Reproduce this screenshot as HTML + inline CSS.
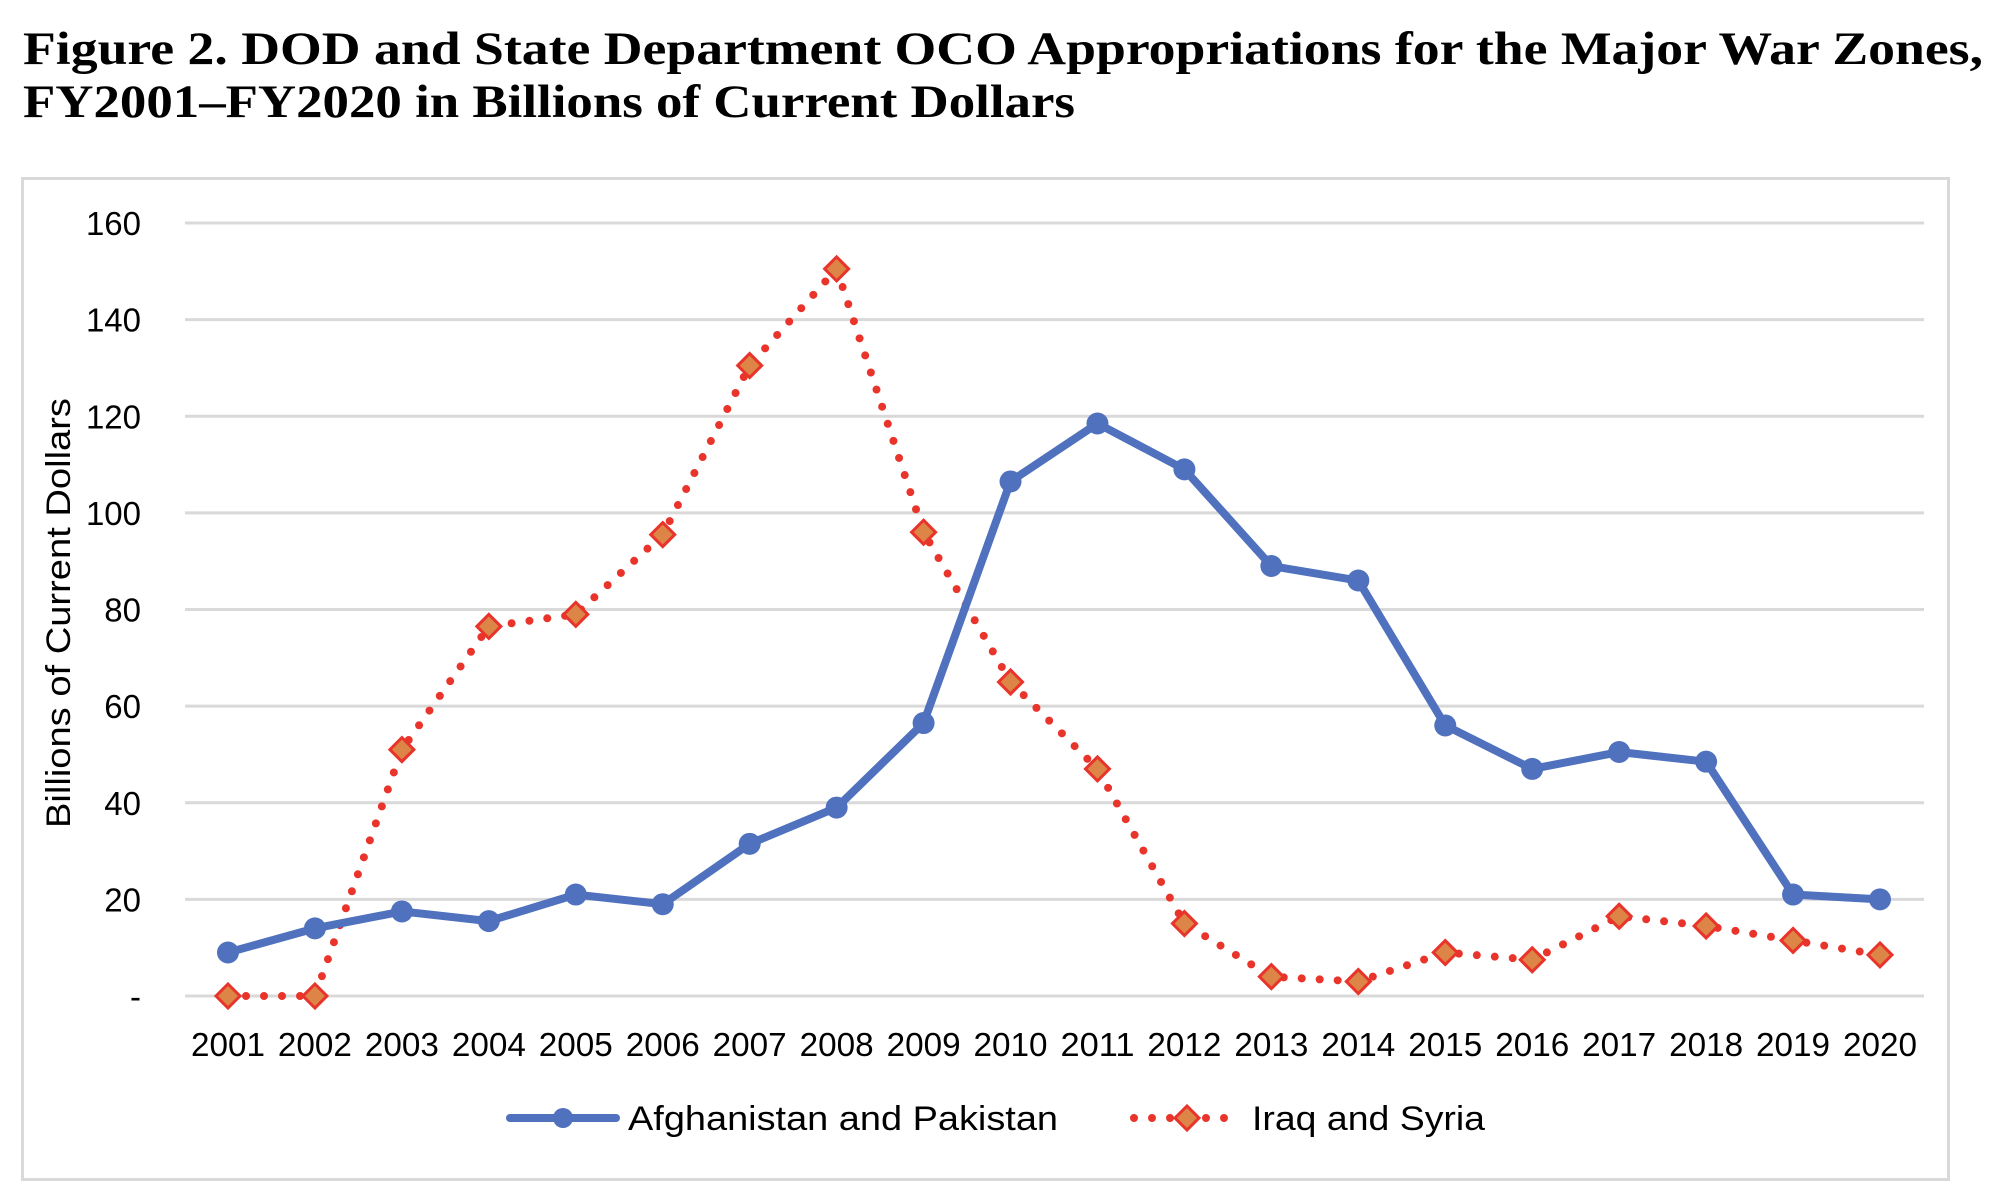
<!DOCTYPE html>
<html><head><meta charset="utf-8"><style>
html,body{margin:0;padding:0;background:#fff;}
svg{display:block;}
</style></head><body>
<svg id="chart" width="2000" height="1198" viewBox="0 0 2000 1198">
<text x="23" y="64" font-family="Liberation Serif, serif" font-weight="bold" font-size="47" textLength="1960" lengthAdjust="spacingAndGlyphs">Figure 2. DOD and State Department OCO Appropriations for the Major War Zones,</text>
<text x="23" y="117" font-family="Liberation Serif, serif" font-weight="bold" font-size="47" textLength="1052" lengthAdjust="spacingAndGlyphs">FY2001–FY2020 in Billions of Current Dollars</text>
<rect x="22.5" y="178.5" width="1926" height="1001" fill="#fff" stroke="#d9d9d9" stroke-width="3"/>
<g id="grid"></g><g id="yticks"></g><g id="xticks"></g><g id="series"></g>
<text transform="translate(70,613) rotate(-90)" text-anchor="middle" font-family="Liberation Sans, sans-serif" font-size="34" fill="#000" textLength="430" lengthAdjust="spacingAndGlyphs">Billions of Current Dollars</text>
<g>
<g>
<line x1="510" y1="1118" x2="616" y2="1118" stroke="#4F71BE" stroke-width="8" stroke-linecap="round"/>
<circle cx="563" cy="1118" r="10" fill="#4F71BE"/>
<text x="628" y="1130" font-family="Liberation Sans, sans-serif" font-size="34" textLength="430" lengthAdjust="spacingAndGlyphs">Afghanistan and Pakistan</text>
</g>
<g>
<line x1="1134" y1="1118" x2="1238" y2="1118" stroke="#E8342A" stroke-width="8" stroke-linecap="round" stroke-dasharray="0 18"/>
<path d="M1187 1106 L1199 1118 L1187 1130 L1175 1118 Z" fill="#DD8447" stroke="#E8342A" stroke-width="3"/>
<text x="1252" y="1130" font-family="Liberation Sans, sans-serif" font-size="34" textLength="233" lengthAdjust="spacingAndGlyphs">Iraq and Syria</text>
</g>
</g>
</svg>
<script>
const years = ["2001","2002","2003","2004","2005","2006","2007","2008","2009","2010","2011","2012","2013","2014","2015","2016","2017","2018","2019","2020"];
const afghanistanPakistan = [9,14,17.5,15.5,21,19,31.5,39,56.5,106.5,118.5,109,89,86,56,47,50.5,48.5,21,20];
const iraqSyria = [0,0,51,76.5,79,95.5,130.5,150.5,96,65,47,15,4,3,9,7.5,16.5,14.5,11.5,8.5];
const yTicks = [0,20,40,60,80,100,120,140,160];
const yTickLabels = ["-","20","40","60","80","100","120","140","160"];

const NS="http://www.w3.org/2000/svg";
const x0=228, x1=1880, yZero=996, yTop=223, yMax=160;
function xs(i){return x0+(x1-x0)*i/(years.length-1);}
function ys(v){return yZero-(yZero-yTop)*v/yMax;}
function mk(tag,attrs,parent){const e=document.createElementNS(NS,tag);for(const k in attrs)e.setAttribute(k,attrs[k]);parent.appendChild(e);return e;}
const grid=document.getElementById('grid'),yt=document.getElementById('yticks'),xt=document.getElementById('xticks'),ser=document.getElementById('series');
yTicks.forEach((v,i)=>{
  const l=mk('line',{x1:185,x2:1924,y1:ys(v),y2:ys(v),stroke:'#d9d9d9','stroke-width':3},grid);
  
  
  const t=mk('text',{x:141,y:ys(v)+12,'text-anchor':'end','font-family':'Liberation Sans, sans-serif','font-size':33},yt);
  t.textContent=yTickLabels[i];
  
  
});
years.forEach((y,i)=>{
  const t=mk('text',{x:xs(i),y:1056,'text-anchor':'middle','font-family':'Liberation Sans, sans-serif','font-size':33,textLength:74,lengthAdjust:'spacingAndGlyphs'},xt);
  t.textContent=y;
  
  
});
const redPts=iraqSyria.map((v,i)=>xs(i)+','+ys(v)).join(' ');
const rl=mk('polyline',{points:redPts,fill:'none',stroke:'#E8342A','stroke-width':8,'stroke-linecap':'round','stroke-dasharray':'0 18'},ser);


iraqSyria.forEach((v,i)=>{
  const cx=xs(i),cy=ys(v);
  const d=mk('path',{d:`M${cx} ${cy-12} L${cx+12} ${cy} L${cx} ${cy+12} L${cx-12} ${cy} Z`,fill:'#DD8447',stroke:'#E8342A','stroke-width':3},ser);
  
  
});
const bluePts=afghanistanPakistan.map((v,i)=>xs(i)+','+ys(v)).join(' ');
const bl=mk('polyline',{points:bluePts,fill:'none',stroke:'#4F71BE','stroke-width':8,'stroke-linejoin':'round'},ser);


afghanistanPakistan.forEach((v,i)=>{
  const c=mk('circle',{cx:xs(i),cy:ys(v),r:11,fill:'#4F71BE'},ser);
  
  
});
</script>
</body></html>
